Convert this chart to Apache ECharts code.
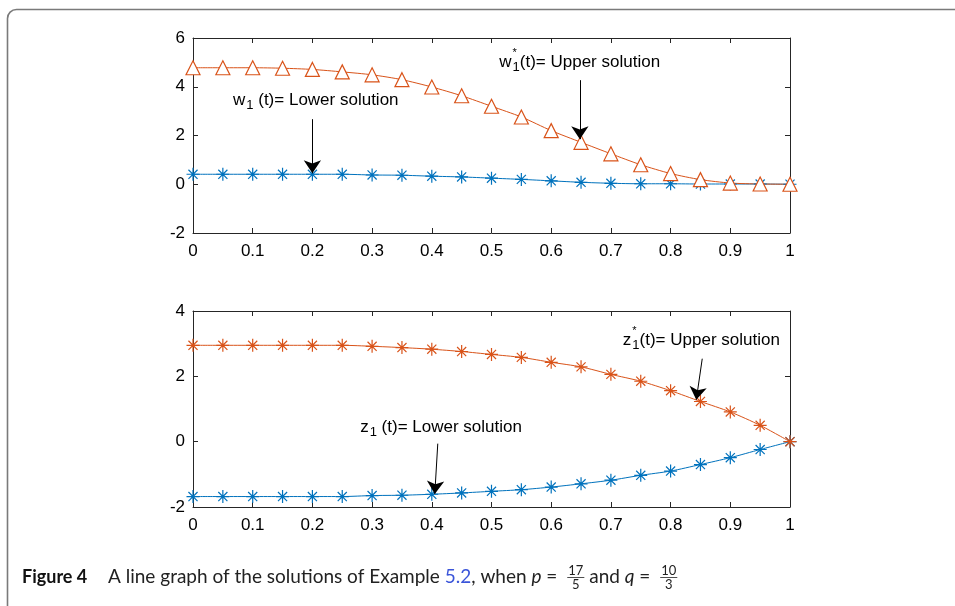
<!DOCTYPE html>
<html>
<head>
<meta charset="utf-8">
<script src="https://cdn.jsdelivr.net/npm/echarts@6/dist/echarts.min.js"></script>
<style>
  html, body { margin: 0; padding: 0; background: #fff; }
  #main { width: 955px; height: 606px; }
</style>
</head>
<body>
<div id="main"></div>
<script>
// t grid shared by all four solutions
const tValues = [0, 0.05, 0.1, 0.15, 0.2, 0.25, 0.3, 0.35, 0.4, 0.45, 0.5,
                 0.55, 0.6, 0.65, 0.7, 0.75, 0.8, 0.85, 0.9, 0.95, 1];

// top panel: w1
const w1Upper = [4.78, 4.78, 4.78, 4.76, 4.71, 4.61, 4.49, 4.29, 3.99, 3.63, 3.2,
                 2.76, 2.2, 1.72, 1.25, 0.8, 0.44, 0.19, 0.05, 0.01, 0];
const w1Lower = [0.41, 0.41, 0.41, 0.41, 0.41, 0.41, 0.38, 0.37, 0.33, 0.3, 0.25,
                 0.2, 0.14, 0.08, 0.04, 0.02, 0.02, 0.01, 0.01, 0.01, 0];

// bottom panel: z1
const z1Upper = [2.95, 2.95, 2.95, 2.95, 2.95, 2.95, 2.92, 2.88, 2.83, 2.76, 2.67,
                 2.58, 2.43, 2.29, 2.06, 1.85, 1.56, 1.23, 0.91, 0.5, 0];
const z1Lower = [-1.68, -1.68, -1.68, -1.68, -1.68, -1.68, -1.65, -1.64, -1.61, -1.57, -1.52,
                 -1.47, -1.39, -1.29, -1.18, -1.03, -0.9, -0.7, -0.49, -0.24, 0];

// annotations, positions in data units of their panel
const notesTop = [
  { name: 'w', sub: '1', sup: '', rest: ' (t)= Lower solution', at: [0.067, 3.43], from: [0.2, 2.67], to: [0.2, 0.45] },
  { name: 'w', sub: '1', sup: '*', rest: '(t)= Upper solution', at: [0.513, 5.01], from: [0.648, 4.27], to: [0.648, 1.85] }
];
const notesBottom = [
  { name: 'z', sub: '1', sup: '', rest: ' (t)= Lower solution', at: [0.28, 0.45], from: [0.41, -0.06], to: [0.405, -1.6] },
  { name: 'z', sub: '1', sup: '*', rest: '(t)= Upper solution', at: [0.72, 3.1], from: [0.853, 2.54], to: [0.843, 1.28] }
];

const BLUE = '#0072BD';
const ORANGE = '#D95319';
const AXIS = '#262626';
const FONT = 'Liberation Sans, Arial, Helvetica, sans-serif';
const STAR = 'path://M0,-10L0,10M-10,0L10,0M-7,-7L7,7M-7,7L7,-7';

const chartDom = document.getElementById('main');
const myChart = echarts.init(chartDom);

const pairs = ys => tValues.map((t, i) => [t, ys[i]]);

function arrowLines(notes) {
  return {
    silent: true,
    symbol: ['none', 'arrow'],
    symbolSize: 13,
    lineStyle: { color: '#000', width: 1, type: 'solid' },
    itemStyle: { color: '#000' },
    label: { show: false },
    data: notes.map(n => [{ coord: n.from }, { coord: n.to }])
  };
}

function xAxisPair(gi) {
  const base = {
    type: 'value', gridIndex: gi, min: 0, max: 1, interval: 0.1,
    axisLine: { onZero: false, lineStyle: { color: AXIS, width: 1 } },
    axisTick: { inside: true, length: 5, lineStyle: { color: AXIS } },
    splitLine: { show: false }
  };
  return [
    Object.assign({}, base, {
      position: 'bottom',
      axisLabel: {
        color: '#000', fontSize: 17, fontFamily: FONT, margin: 10,
        formatter: v => String(+v.toFixed(1))
      }
    }),
    Object.assign({}, base, { position: 'top', axisLabel: { show: false } })
  ];
}

function yAxisPair(gi, min, max) {
  const base = {
    type: 'value', gridIndex: gi, min: min, max: max, interval: 2,
    axisLine: { show: true, onZero: false, lineStyle: { color: AXIS, width: 1 } },
    axisTick: { show: true, inside: true, length: 5, lineStyle: { color: AXIS } },
    splitLine: { show: false }
  };
  return [
    Object.assign({}, base, {
      position: 'left',
      axisLabel: { color: '#000', fontSize: 17, fontFamily: FONT, margin: 8 }
    }),
    Object.assign({}, base, { position: 'right', axisLabel: { show: false } })
  ];
}

function lineSeries(name, ys, xi, yi, color, symbol, size, hollow, notes) {
  const s = {
    name: name, type: 'line', xAxisIndex: xi, yAxisIndex: yi,
    data: pairs(ys), smooth: 0.25,
    symbol: symbol, symbolSize: size, showAllSymbol: true,
    lineStyle: { color: color, width: 1 },
    itemStyle: {
      color: hollow ? '#fff' : color,
      borderColor: color, borderWidth: 1.2
    },
    z: 3
  };
  if (notes) s.markLine = arrowLines(notes);
  return s;
}

const option = {
  animation: false,
  backgroundColor: '#fff',
  grid: [
    { left: 193, top: 38, width: 597, height: 195 },
    { left: 193, top: 311, width: 597, height: 196 }
  ],
  xAxis: xAxisPair(0).concat(xAxisPair(1)),
  yAxis: yAxisPair(0, -2, 6).concat(yAxisPair(1, -2, 4)),
  series: [
    lineSeries('w1 lower', w1Lower, 0, 0, BLUE, STAR, 13, false, null),
    lineSeries('w1 upper', w1Upper, 0, 0, ORANGE, 'triangle', 14, true, notesTop),
    lineSeries('z1 lower', z1Lower, 2, 2, BLUE, STAR, 13, false, null),
    lineSeries('z1 upper', z1Upper, 2, 2, ORANGE, STAR, 13, false, notesBottom)
  ]
};
myChart.setOption(option);

// text layout helper: runs of text laid out left to right
const measure = document.createElement('canvas').getContext('2d');
function textRun(x, y, parts) {
  const out = [];
  let cx = x;
  parts.forEach(p => {
    const size = p.size || 17;
    const weight = p.weight || 'normal';
    const style = p.style || 'normal';
    const family = p.family || FONT;
    measure.font = style + ' ' + weight + ' ' + size + 'px ' + family;
    const w = measure.measureText(p.t).width;
    out.push({
      type: 'text', silent: true,
      x: cx + (p.dx || 0), y: y + (p.dy || 0),
      style: {
        text: p.t, fill: p.color || '#000',
        fontSize: size, fontWeight: weight, fontStyle: style, fontFamily: family,
        verticalAlign: 'middle', align: 'left'
      }
    });
    if (!p.noAdvance) cx += w;
    if (p.gap) cx += p.gap;
  });
  return { elements: out, end: cx };
}

function noteElements(notes, gi) {
  let els = [];
  notes.forEach(n => {
    const pt = myChart.convertToPixel({ gridIndex: gi }, n.at);
    const parts = [{ t: n.name }];
    if (n.sup) parts.push({ t: n.sup, size: 11, dy: -9, dx: 1, noAdvance: true });
    parts.push({ t: n.sub, size: 13, dy: 5, dx: 1, gap: 1 });
    parts.push({ t: n.rest });
    els = els.concat(textRun(pt[0], pt[1], parts).elements);
  });
  return els;
}

// caption
const CAP = 'Lato, "Open Sans", sans-serif';
const capY = 577;
const CAPSIZE = 19;
function fraction(cx, num, den) {
  measure.font = 'normal normal 13px ' + CAP;
  const w = Math.max(measure.measureText(num).width, measure.measureText(den).width);
  return {
    width: w,
    elements: [
      { type: 'text', silent: true, x: cx + w / 2, y: capY - 6,
        style: { text: num, fill: '#222', fontSize: 13, fontFamily: CAP, align: 'center', verticalAlign: 'middle' } },
      { type: 'line', silent: true,
        shape: { x1: cx - 1, y1: capY + 0.5, x2: cx + w + 1, y2: capY + 0.5 },
        style: { stroke: '#222', lineWidth: 0.8 } },
      { type: 'text', silent: true, x: cx + w / 2, y: capY + 7.5,
        style: { text: den, fill: '#222', fontSize: 13, fontFamily: CAP, align: 'center', verticalAlign: 'middle' } }
    ]
  };
}

let caption = [];
caption = caption.concat(textRun(22, capY, [
  { t: 'Figure 4', weight: 'bold', size: 18, family: CAP, color: '#111' }
]).elements);
const run1 = textRun(108, capY, [
  { t: 'A line graph of the solutions of Example ', size: CAPSIZE, family: CAP, color: '#222' },
  { t: '5.2', size: CAPSIZE, family: CAP, color: '#3b55d9' },
  { t: ', when ', size: CAPSIZE, family: CAP, color: '#222' },
  { t: 'p', size: CAPSIZE, family: CAP, style: 'italic', color: '#222' },
  { t: ' = ', size: CAPSIZE, family: CAP, color: '#222', gap: 6 }
]);
caption = caption.concat(run1.elements);
const f1 = fraction(run1.end, '17', '5');
caption = caption.concat(f1.elements);
const run2 = textRun(run1.end + f1.width + 1, capY, [
  { t: ' and ', size: CAPSIZE, family: CAP, color: '#222' },
  { t: 'q', size: CAPSIZE, family: CAP, style: 'italic', color: '#222' },
  { t: ' = ', size: CAPSIZE, family: CAP, color: '#222', gap: 6 }
]);
caption = caption.concat(run2.elements);
caption = caption.concat(fraction(run2.end, '10', '3').elements);

// rounded frame round the whole figure
const frame = {
  type: 'rect', silent: true, z: -1,
  shape: { x: 7.5, y: 9.5, width: 970, height: 610, r: 9 },
  style: { fill: 'none', stroke: '#7a7a7a', lineWidth: 1.6 }
};

myChart.setOption({
  graphic: { elements: [frame].concat(noteElements(notesTop, 0), noteElements(notesBottom, 1), caption) }
});
</script>
</body>
</html>
